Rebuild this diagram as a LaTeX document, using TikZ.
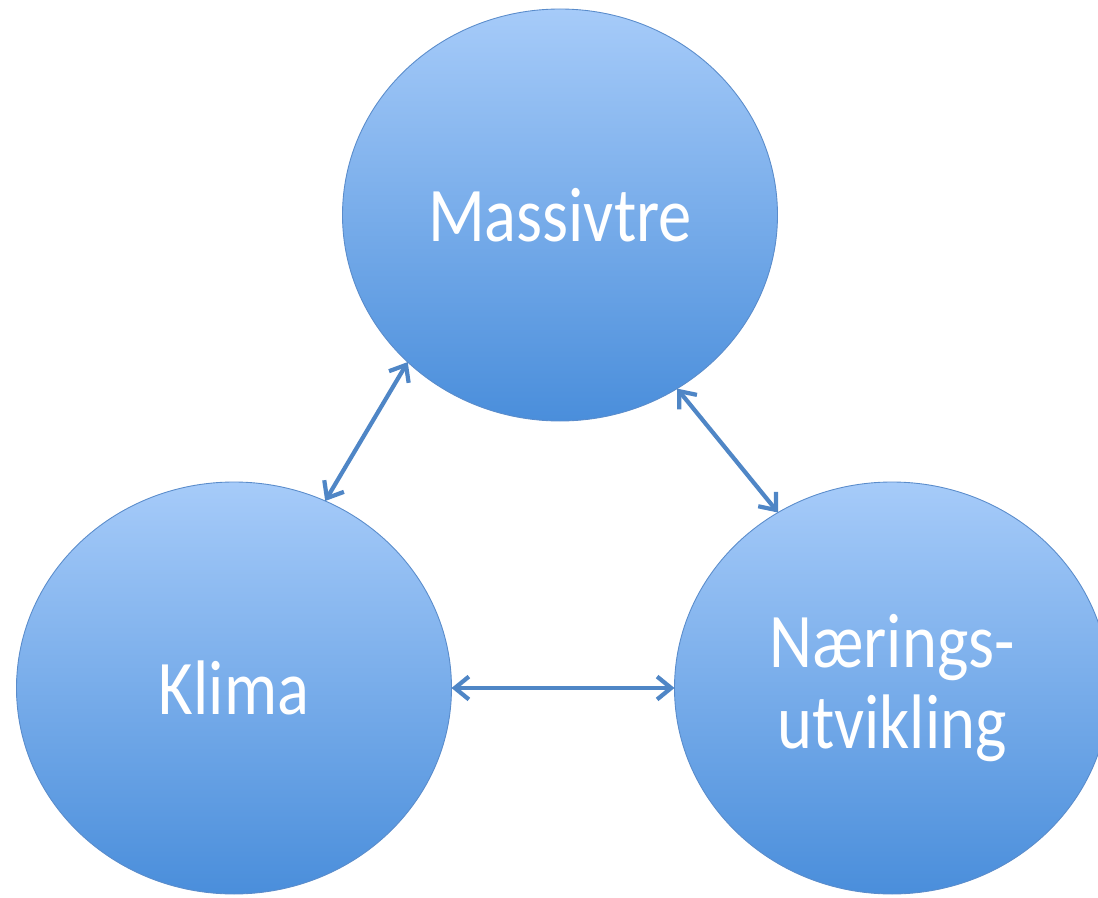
\documentclass[tikz,border=0pt]{standalone}
\usepackage{fontspec}
\setmainfont{Carlito}[FakeStretch=0.86]
\usetikzlibrary{shapes.geometric,arrows.meta}
\definecolor{balltop}{HTML}{A6CBF9}
\definecolor{ballbot}{HTML}{4A8EDB}
\definecolor{ballrim}{HTML}{5A8CCB}
\definecolor{linkcol}{HTML}{4F86C6}
\begin{document}
\begin{tikzpicture}[
    ball/.style={ellipse, draw=ballrim, line width=0.5pt, top color=balltop, bottom color=ballbot,
      minimum width=8.7cm, minimum height=8.24cm, inner sep=0pt, outer sep=0pt,
      text=white, align=center, font=\fontsize{44}{46}\selectfont},
    link/.style={{Straight Barb[length=8pt,width=13pt]}-{Straight Barb[length=8pt,width=13pt]},
      draw=linkcol, line width=2.4pt}
  ]
  \useasboundingbox (0,0) rectangle (21.96,17.94);

  \node[ball] (massiv) at (11.2,13.64) {Massivtre};
  \node[ball] (klima) at (4.68,4.18) {Klima};
  \node[ball] (naering) at (17.84,4.18) {Nærings-\\utvikling};

  % links between the three
  \draw[link] (klima.64) -- (massiv.224);
  \draw[link] (massiv.304) -- (naering.123);
  \draw[link] (klima.0) -- (naering.180);
\end{tikzpicture}
\end{document}
